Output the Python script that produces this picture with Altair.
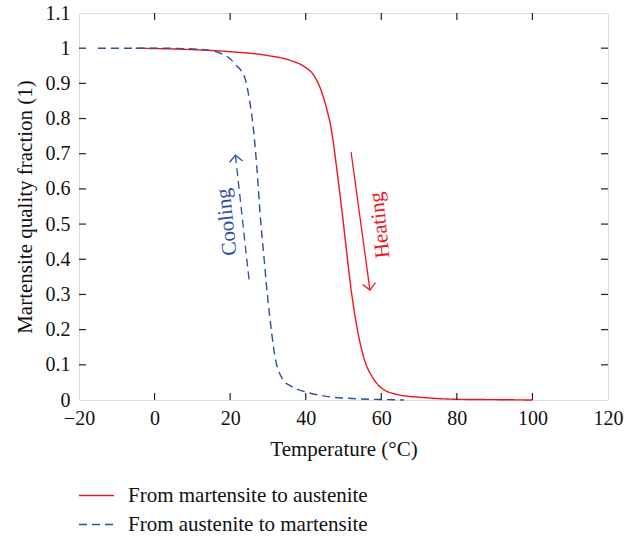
import altair as alt
import pandas as pd

# ---- data ----
series_names = ["From martensite to austenite", "From austenite to martensite"]

heat_T = [-5, 0, 10, 20, 30, 36, 40, 42, 44, 45.5, 47, 48, 49, 50, 51, 52, 53, 54, 55, 56, 57.5, 59, 61, 63, 66, 70, 75, 80, 90, 100]
heat_f = [1.0, 0.999, 0.996, 0.99, 0.979, 0.965, 0.945, 0.925, 0.882, 0.83, 0.755, 0.675, 0.59, 0.50, 0.405, 0.315, 0.242, 0.182, 0.135, 0.10, 0.068, 0.045, 0.027, 0.019, 0.012, 0.008, 0.004, 0.002, 0.001, 0.0]

cool_T = [-15, 0, 10, 15, 18, 20, 21.5, 23, 24, 25, 26, 27, 28, 29, 30, 31, 32, 33, 34, 36, 38.4, 41, 44, 47, 51, 57, 62, 66]
cool_f = [1.0, 1.0, 0.998, 0.993, 0.983, 0.97, 0.952, 0.935, 0.912, 0.86, 0.786, 0.67, 0.52, 0.40, 0.284, 0.19, 0.115, 0.078, 0.057, 0.04, 0.028, 0.02, 0.013, 0.008, 0.005, 0.002, 0.001, 0.0]

x_ticks = [-20, 0, 20, 40, 60, 80, 100, 120]
y_ticks = [0, 0.1, 0.2, 0.3, 0.4, 0.5, 0.6, 0.7, 0.8, 0.9, 1.0, 1.1]
x_inner = [0, 20, 40, 60, 80, 100]
y_inner = [0.1, 0.2, 0.3, 0.4, 0.5, 0.6, 0.7, 0.8, 0.9, 1.0]

# annotation arrows (start -> tip) and labels
heat_arrow_T = [52.0, 57.0]
heat_arrow_f = [0.705, 0.3125]
cool_arrow_T = [25.06, 21.4]
cool_arrow_f = [0.336, 0.696]
label_text = ["Heating", "Cooling"]
label_T = [59.7, 19.2]
label_f = [0.497, 0.506]

RED = "#F0141E"
BLUE = "#2E4DA5"
FONT = "Liberation Serif"
W, H = 529, 387

curves = pd.concat([
    pd.DataFrame({"T": heat_T, "f": heat_f, "s": series_names[0], "o": range(len(heat_T))}),
    pd.DataFrame({"T": cool_T, "f": cool_f, "s": series_names[1], "o": range(len(cool_T))}),
])

xs = alt.Scale(domain=[-20, 120], nice=False, zero=False)
ys = alt.Scale(domain=[0, 1.1], nice=False, zero=False)

x_axis = alt.Axis(values=x_ticks, ticks=False, grid=False, domain=False, labelOverlap=False,
                  labelFlush=False,
                  labelExpr="replace(datum.label, '-', '\u2212')",
                  labelFont=FONT, labelFontSize=20, labelColor="#111", labelPadding=8,
                  title="Temperature (\u00b0C)", titleFont=FONT, titleFontSize=21,
                  titleFontWeight="normal", titleColor="#111", titlePadding=10)
y_axis = alt.Axis(values=y_ticks, ticks=False, grid=False, domain=False, format=".1~f",
                  labelOverlap=False, labelFlush=False,
                  labelFont=FONT, labelFontSize=20, labelColor="#111", labelPadding=9,
                  title="Martensite quality fraction (1)", titleFont=FONT, titleFontSize=21,
                  titleFontWeight="normal", titleColor="#111", titlePadding=10)

legend = alt.Legend(orient="none", legendX=-1, legendY=464, direction="vertical",
                    title=None, symbolType="stroke", symbolSize=1225, labelLimit=0,
                    symbolStrokeWidth=1.5, labelFont=FONT, labelFontSize=21,
                    labelColor="#111", labelOffset=13, rowPadding=0)


def X():
    return alt.X("T:Q", scale=xs, axis=x_axis)


def Y():
    return alt.Y("f:Q", scale=ys, axis=y_axis)


lines = alt.Chart(curves).mark_line(strokeWidth=1.4, interpolate="monotone").encode(
    x=X(), y=Y(),
    order="o:Q",
    color=alt.Color("s:N", scale=alt.Scale(domain=series_names, range=[RED, BLUE]), legend=legend),
    strokeDash=alt.StrokeDash("s:N", scale=alt.Scale(domain=series_names, range=[[1, 0], [8, 5]]),
                              legend=legend),
)

# inward ticks
tick_color = "#222"
xt = pd.DataFrame({"T": x_inner})
yt = pd.DataFrame({"f": y_inner})
bottom_ticks = alt.Chart(xt).mark_rule(color=tick_color, strokeWidth=1.2).encode(
    x=X(), y=alt.value(H), y2=alt.value(H - 7))
top_ticks = alt.Chart(xt).mark_rule(color=tick_color, strokeWidth=1.2).encode(
    x=X(), y=alt.value(0), y2=alt.value(7))
left_ticks = alt.Chart(yt).mark_rule(color=tick_color, strokeWidth=1.2).encode(
    y=Y(), x=alt.value(0), x2=alt.value(7))
right_ticks = alt.Chart(yt).mark_rule(color=tick_color, strokeWidth=1.2).encode(
    y=Y(), x=alt.value(W), x2=alt.value(W - 7))

# annotation arrows
heat_df = pd.DataFrame({"T": heat_arrow_T, "f": heat_arrow_f})
cool_df = pd.DataFrame({"T": cool_arrow_T, "f": cool_arrow_f})
heat_line = alt.Chart(heat_df).mark_line(color=RED, strokeWidth=1.3).encode(x=X(), y=Y())
cool_line = alt.Chart(cool_df).mark_line(color=BLUE, strokeWidth=1.3, strokeDash=[8, 5]).encode(x=X(), y=Y())
heat_head = alt.Chart(heat_df.iloc[[1]]).mark_point(
    shape="M -1 -1 L 0 0 L 1 -1", filled=False, color=RED, strokeWidth=1.3, size=169, angle=352, opacity=1
).encode(x=X(), y=Y())
cool_head = alt.Chart(cool_df.iloc[[1]]).mark_point(
    shape="M -1 1 L 0 0 L 1 1", filled=False, color=BLUE, strokeWidth=1.3, size=169, angle=354, opacity=1
).encode(x=X(), y=Y())

lab_df = pd.DataFrame({"t": label_text, "T": label_T, "f": label_f, "c": [RED, BLUE]})
labels = alt.Chart(lab_df).mark_text(font=FONT, fontSize=21, angle=264, align="center", baseline="middle").encode(
    x=X(), y=Y(), text="t:N", color=alt.Color("c:N", scale=None))

chart = alt.layer(
    lines, bottom_ticks, top_ticks, left_ticks, right_ticks,
    heat_line, cool_line, heat_head, cool_head, labels
).properties(
    width=W, height=H,
    autosize=alt.AutoSizeParams(type="none"),
    padding={"left": 79, "top": 13, "right": 29, "bottom": 137},
).configure_view(stroke="#222", strokeWidth=1.3).configure(background="white")

chart.save("out.html", embed_options={"renderer": "svg", "actions": False})
